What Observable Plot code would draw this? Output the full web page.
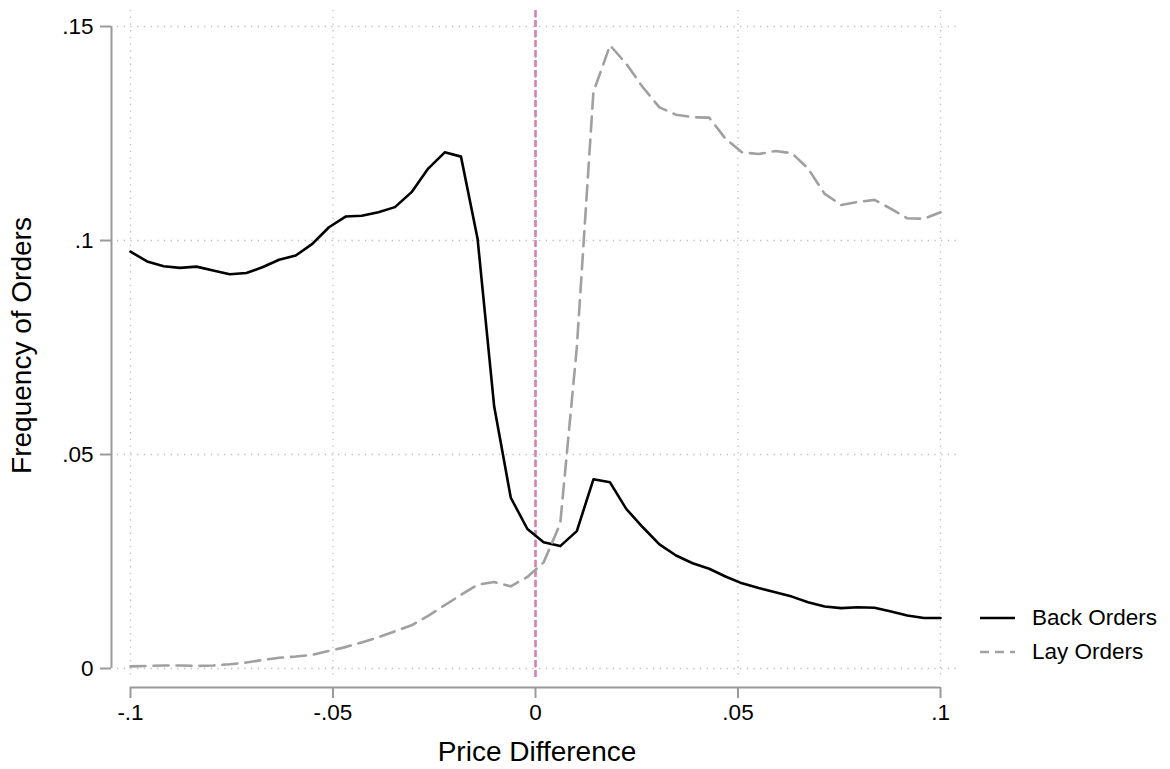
<!DOCTYPE html>
<html>
<head>
<meta charset="utf-8">
<script src="https://cdn.jsdelivr.net/npm/d3@7"></script>
<script src="https://cdn.jsdelivr.net/npm/@observablehq/plot@0.6"></script>
<style>
  body { margin: 0; background: #fff; font-family: "Liberation Sans", Arial, sans-serif; }
  #wrap { position: relative; width: 1170px; height: 769px; }
  #legend { position: absolute; left: 978px; top: 601px; font-size: 22.5px; color: #000; }
  #legend .row { display: flex; align-items: center; height: 34px; }
  #legend svg { margin-right: 16px; }
</style>
</head>
<body>
<div id="wrap"></div>
<script>
const priceDiff = [
  -0.1, -0.0959, -0.0918, -0.0878, -0.0837, -0.0796, -0.0755, -0.0714, -0.0673, -0.0633,
  -0.0592, -0.0551, -0.0510, -0.0469, -0.0429, -0.0388, -0.0347, -0.0306, -0.0265, -0.0224,
  -0.0184, -0.0143, -0.0102, -0.0061, -0.0020, 0.0020, 0.0061, 0.0102, 0.0143, 0.0184,
  0.0224, 0.0265, 0.0306, 0.0347, 0.0388, 0.0429, 0.0469, 0.0510, 0.0551, 0.0592,
  0.0633, 0.0673, 0.0714, 0.0755, 0.0796, 0.0837, 0.0878, 0.0918, 0.0959, 0.1
];
const backOrders = [
  0.0974, 0.0951, 0.0940, 0.0936, 0.0939, 0.0930, 0.0921, 0.0924, 0.0938, 0.0955,
  0.0965, 0.0992, 0.1031, 0.1056, 0.1058, 0.1066, 0.1078, 0.1113, 0.1168, 0.1206,
  0.1196, 0.1004, 0.0612, 0.0399, 0.0326, 0.0295, 0.0286, 0.0321, 0.0442, 0.0435,
  0.0373, 0.0330, 0.0290, 0.0264, 0.0246, 0.0233, 0.0215, 0.0199, 0.0188, 0.0178,
  0.0168, 0.0155, 0.0145, 0.0141, 0.0143, 0.0142, 0.0133, 0.0124, 0.0118, 0.0118
];
const layOrders = [
  0.0005, 0.0006, 0.0007, 0.0007, 0.0006, 0.0007, 0.0010, 0.0014, 0.0020, 0.0025,
  0.0028, 0.0032, 0.0041, 0.0050, 0.0061, 0.0073, 0.0087, 0.0101, 0.0123, 0.0148,
  0.0172, 0.0196, 0.0202, 0.0192, 0.0214, 0.0248, 0.0338, 0.0750, 0.1347, 0.1456,
  0.1413, 0.1358, 0.1311, 0.1294, 0.1288, 0.1287, 0.1238, 0.1206, 0.1202, 0.1209,
  0.1204, 0.1168, 0.1109, 0.1083, 0.1090, 0.1095, 0.1074, 0.1052, 0.1051, 0.1066
];
const xTicks = [-0.1, -0.05, 0, 0.05, 0.1];
const yTicks = [0, 0.05, 0.1, 0.15];
const seriesNames = ["Back Orders", "Lay Orders"];
const xTitle = "Price Difference";
const yTitle = "Frequency of Orders";

const back = priceDiff.map((x, i) => ({x, y: backOrders[i]}));
const lay = priceDiff.map((x, i) => ({x, y: layOrders[i]}));

const fmt = d => d === 0 ? "0" : String(d).replace("0.", ".");
const xDomain = [-0.10321, 0.10395];
const yDomain = [-0.0028, 0.15374];
const axisGray = "#9a9a9a";
const gridGray = "#bdbdbd";

const chart = Plot.plot({
  width: 1170,
  height: 769,
  marginLeft: 117,
  marginRight: 214,
  marginTop: 10,
  marginBottom: 89,
  style: {fontFamily: '"Liberation Sans", Arial, sans-serif', fontSize: "22.5px", background: "#fff", color: "#000"},
  x: {domain: xDomain, axis: null},
  y: {domain: yDomain, axis: null},
  marks: [
    Plot.ruleY(yTicks, {stroke: gridGray, strokeWidth: 1.3, strokeDasharray: "1.3,5.4"}),
    Plot.ruleX(xTicks, {stroke: gridGray, strokeWidth: 1.3, strokeDasharray: "1.3,5.4"}),
    Plot.ruleX([0], {stroke: "#d681b3", strokeWidth: 2.6, strokeDasharray: "7,3"}),
    // axis lines
    Plot.ruleX([xDomain[0]], {y1: yTicks[0], y2: yTicks[yTicks.length - 1], dx: -6, stroke: axisGray, strokeWidth: 2}),
    Plot.ruleY([yDomain[0]], {x1: xTicks[0], x2: xTicks[xTicks.length - 1], dy: 7, stroke: axisGray, strokeWidth: 2}),
    Plot.axisY(yTicks, {anchor: "left", tickSize: 11, tickPadding: 7, dx: -6, tickFormat: fmt, stroke: axisGray, strokeWidth: 2, fill: "#000", fontSize: 22.5, label: null}),
    Plot.axisX(xTicks, {anchor: "bottom", tickSize: 11, tickPadding: 6, dy: 7, tickFormat: fmt, stroke: axisGray, strokeWidth: 2, fill: "#000", fontSize: 22.5, label: null}),
    Plot.line(back, {x: "x", y: "y", stroke: "#000", strokeWidth: 2.6, curve: "linear"}),
    Plot.line(lay, {x: "x", y: "y", stroke: "#a0a0a0", strokeWidth: 2.6, strokeDasharray: "15,8", curve: "linear"}),
    Plot.text([xTitle], {text: d => d, frameAnchor: "bottom", dy: 80, lineAnchor: "bottom", fontSize: 28, fill: "#000"}),
    Plot.text([yTitle], {text: d => d, frameAnchor: "left", textAnchor: "middle", dx: -95, rotate: -90, fontSize: 28, fill: "#000"})
  ]
});
document.getElementById("wrap").appendChild(chart);

const legend = document.createElement("div");
legend.id = "legend";
const styles = [
  {stroke: "#000", dash: null},
  {stroke: "#a0a0a0", dash: "9,6"}
];
seriesNames.forEach((name, i) => {
  const row = document.createElement("div");
  row.className = "row";
  const s = styles[i];
  row.innerHTML = `<svg width="38" height="6"><line x1="2" y1="3" x2="37" y2="3" stroke="${s.stroke}" stroke-width="2.6" ${s.dash ? `stroke-dasharray="${s.dash}"` : ""}/></svg><span>${name}</span>`;
  legend.appendChild(row);
});
document.getElementById("wrap").appendChild(legend);
</script>
</body>
</html>
